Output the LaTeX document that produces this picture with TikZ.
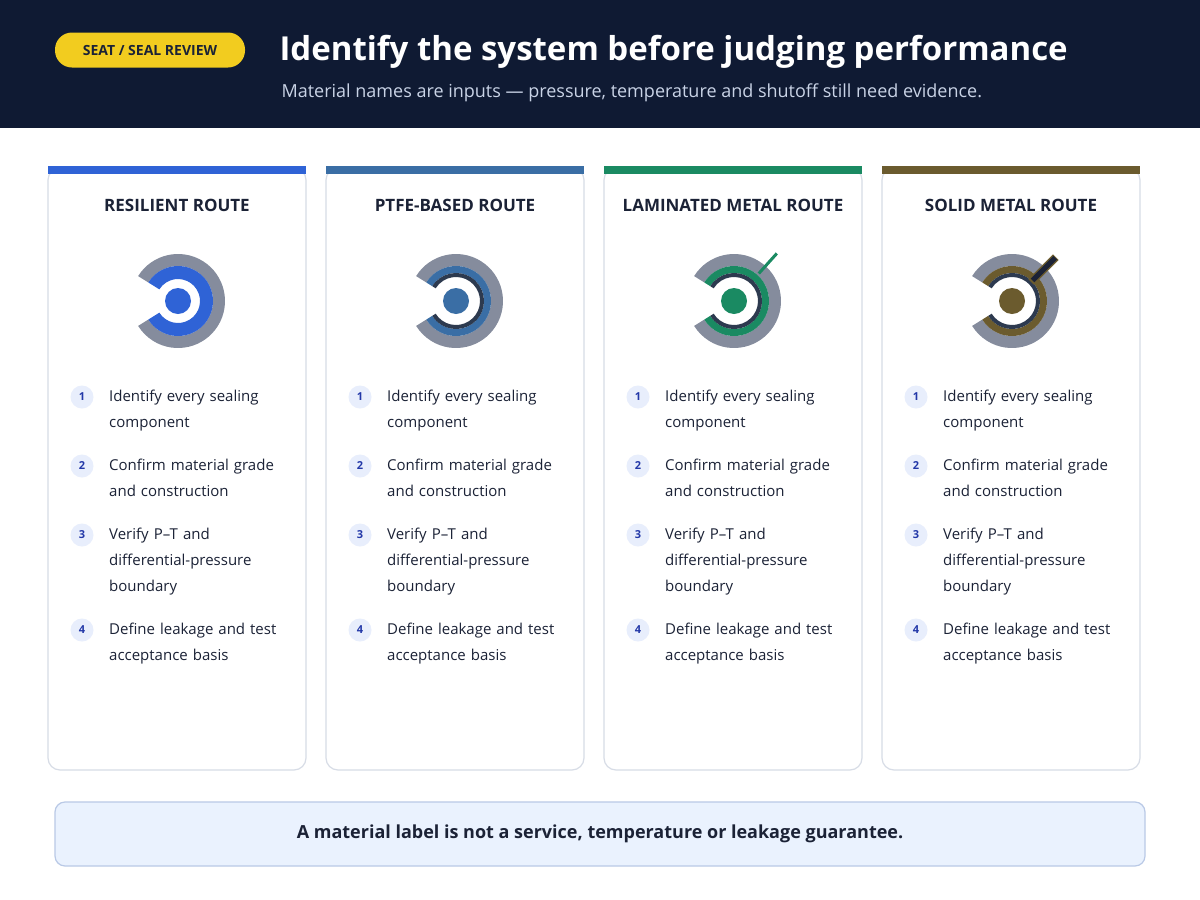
\documentclass[tikz,border=0pt]{standalone}
\usepackage{fontspec}
\setmainfont{Open Sans}
\usepackage{tikz}
\usetikzlibrary{calc}
\definecolor{navy}{HTML}{0F1A33}
\definecolor{badge}{HTML}{F2CC1F}
\definecolor{subtxt}{HTML}{C9D3E6}
\definecolor{ink}{HTML}{1B2236}
\definecolor{cardline}{HTML}{D7DCE6}
\definecolor{ringgray}{HTML}{858C9D}
\definecolor{ringdark}{HTML}{2D3A4F}
\definecolor{numfill}{HTML}{E8EEFC}
\definecolor{numtxt}{HTML}{2338A8}
\definecolor{cblue}{HTML}{2F63D6}
\definecolor{csteel}{HTML}{3A6EA5}
\definecolor{cgreen}{HTML}{1A8A62}
\definecolor{colive}{HTML}{6B5B2E}
\definecolor{notefill}{HTML}{EAF2FE}
\definecolor{noteline}{HTML}{B9C9E6}
\tikzset{
  card/.style={draw=cardline, line width=1.2pt, fill=white, rounded corners=12pt},
  num/.style={circle, fill=numfill, minimum size=23pt, inner sep=0pt,
    text=numtxt, font=\bfseries\fontsize{11}{11}\selectfont},
  stepline/.style={anchor=north west, inner sep=0pt, text width=185pt, align=left,
    text=ink, font=\fontsize{15}{26}\selectfont},
  cardtitle/.style={text=ink, font=\bfseries\fontsize{17}{20}\selectfont}
}
% annular sector with the gap on the left
\newcommand\ringpart[4]{% centre, inner, outer, colour
  \fill[#4] ($#1+(148:#3)$) arc[start angle=148, end angle=-148, radius=#3]
    -- ($#1+(-148:#2)$) arc[start angle=-148, end angle=148, radius=#2] -- cycle;}
\begin{document}
\begin{tikzpicture}[x=1pt, y=1pt]
  \useasboundingbox (0,0) rectangle (1200,-900);
  \fill[white] (0,0) rectangle (1200,-900);
  % header
  \fill[navy] (0,0) rectangle (1200,-128);
  \node(badge)[fill=badge, rounded corners=17pt, minimum width=190pt, minimum height=35pt,
    font=\bfseries\fontsize{14}{14}\selectfont, text=ink] at (150,-50) {SEAT / SEAL REVIEW};
  \node(title)[anchor=west, text=white, font=\bfseries\fontsize{33}{38}\selectfont]
    at (276,-52) {Identify the system before judging performance};
  \node(sub)[anchor=west, text=subtxt, font=\fontsize{18}{20}\selectfont]
    at (278,-93) {Material names are inputs — pressure, temperature and shutoff still need evidence.};
  % cards
  \foreach \x/\col/\name/\kind in {48/cblue/RESILIENT ROUTE/1, 326/csteel/PTFE-BASED ROUTE/2,
      604/cgreen/LAMINATED METAL ROUTE/3, 882/colive/SOLID METAL ROUTE/4}{
    \draw[card] (\x,-168) rectangle ++(258,-602);
    \fill[\col] (\x,-166) rectangle ++(258,-8);
    \node[cardtitle] at (\x+129,-205) {\name};
    \coordinate (c) at (\x+130,-301);
    \ringpart{(c)}{35pt}{47pt}{ringgray}
    \ifnum\kind=1
      \ringpart{(c)}{22pt}{35pt}{\col}
    \else
      \ringpart{(c)}{28pt}{35pt}{\col}
      \ringpart{(c)}{24pt}{28pt}{ringdark}
    \fi
    \ifnum\kind=3
      \draw[\col, line width=3pt] ($(c)+(48:37pt)$) -- ($(c)+(48:64pt)$);
    \fi
    \ifnum\kind=4
      \draw[\col, line width=8pt] ($(c)+(45:27pt)$) -- ($(c)+(45:62pt)$);
      \draw[ink, line width=5pt] ($(c)+(45:29pt)$) -- ($(c)+(45:61pt)$);
    \fi
    \fill[\col] (c) circle[radius=13pt];
    \foreach \n/\y/\txt in {1/397/Identify every sealing component,
        2/466/Confirm material grade and construction,
        3/535/Verify P–T and differential-pressure boundary,
        4/630/Define leakage and test acceptance basis}{
      \node[num] at (\x+34,-\y) {\n};
      \node[stepline] at (\x+61,-\y+7) {\txt};
    }
  }
  % note
  \node(note)[draw=noteline, line width=1.2pt, fill=notefill, rounded corners=10pt,
    minimum width=1090pt, minimum height=64pt, text=ink,
    font=\bfseries\fontsize{18}{20}\selectfont] at (600,-834)
    {A material label is not a service, temperature or leakage guarantee.};
\end{tikzpicture}
\end{document}
